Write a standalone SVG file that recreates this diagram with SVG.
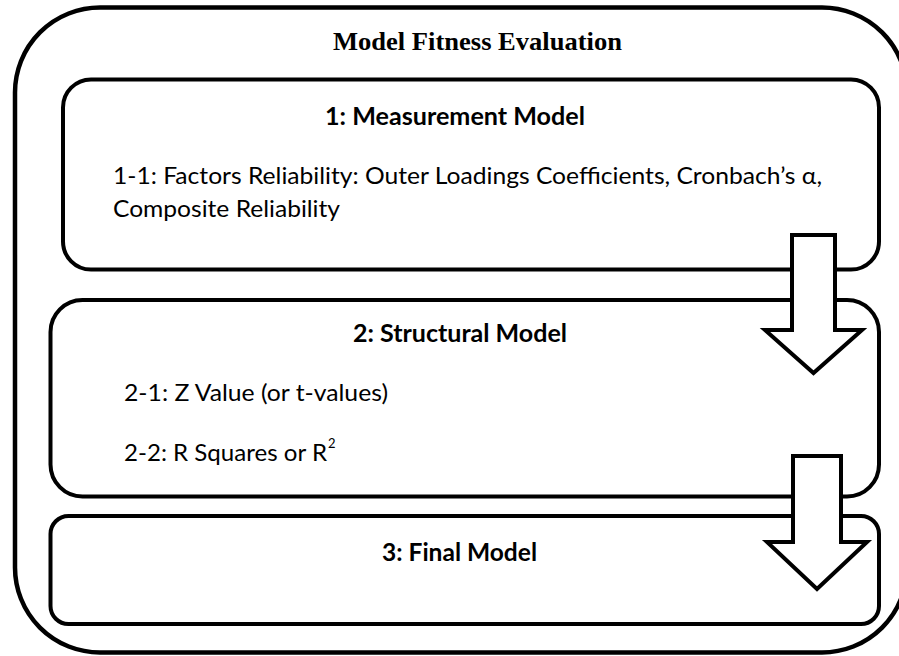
<svg xmlns="http://www.w3.org/2000/svg" width="899" height="656" viewBox="0 0 899 656">
  <style>
    .frame { fill: #ffffff; stroke: #000000; stroke-width: 4.5; }
    .box { fill: #ffffff; stroke: #000000; stroke-width: 4; }
    .flow { fill: #ffffff; stroke: #000000; stroke-width: 4; stroke-linejoin: miter; }
    .title { font-family: "Liberation Serif", "Times New Roman", serif; font-weight: bold; font-size: 26px; fill: #000; }
    .head { font-family: Lato, "Liberation Sans", sans-serif; font-weight: bold; font-size: 25px; fill: #000; }
    .body { font-family: Lato, "Liberation Sans", sans-serif; font-size: 24px; fill: #000; }
  </style>

  <rect width="899" height="656" fill="#ffffff"/>

  <!-- outer container -->
  <g id="fitness-evaluation">
    <rect class="frame" x="15" y="7.5" width="892" height="645" rx="85" ry="85"/>
    <text class="title" x="333" y="50" textLength="289" lengthAdjust="spacingAndGlyphs">Model Fitness Evaluation</text>
  </g>

  <!-- stage 1 -->
  <g id="measurement-model">
    <rect class="box" x="63" y="79.5" width="816" height="190" rx="28" ry="28"/>
    <text class="head" x="325" y="125" textLength="260" lengthAdjust="spacingAndGlyphs">1: Measurement Model</text>
    <text class="body" x="113" y="184" textLength="709" lengthAdjust="spacingAndGlyphs">1-1: Factors Reliability: Outer Loadings Coefficients, Cronbach’s α,</text>
    <text class="body" x="113" y="217" textLength="227" lengthAdjust="spacingAndGlyphs">Composite Reliability</text>
  </g>

  <!-- stage 2 -->
  <g id="structural-model">
    <rect class="box" x="50.5" y="300" width="828.5" height="196.5" rx="32" ry="32"/>
    <text class="head" x="353" y="342" textLength="214" lengthAdjust="spacingAndGlyphs">2: Structural Model</text>
    <text class="body" x="124" y="401" textLength="264" lengthAdjust="spacingAndGlyphs">2-1: Z Value (or t-values)</text>
    <text class="body" x="124" y="461" textLength="203" lengthAdjust="spacingAndGlyphs">2-2: R Squares or R</text>
    <text class="body" x="328" y="448" font-size="13" style="font-size:13px">2</text>
  </g>

  <!-- stage 3 -->
  <g id="final-model">
    <rect class="box" x="50.5" y="516" width="828.5" height="108" rx="18" ry="18"/>
    <text class="head" x="382" y="561" textLength="155" lengthAdjust="spacingAndGlyphs">3: Final Model</text>
  </g>

  <!-- block arrows between stages -->
  <g id="connectors">
    <polygon class="flow" points="792,235 835,235 835,330 862,330 813.5,373 765,330 792,330"/>
    <polygon class="flow" points="793,456 841,456 841,542 867,542 817,589 767,542 793,542"/>
  </g>
</svg>
